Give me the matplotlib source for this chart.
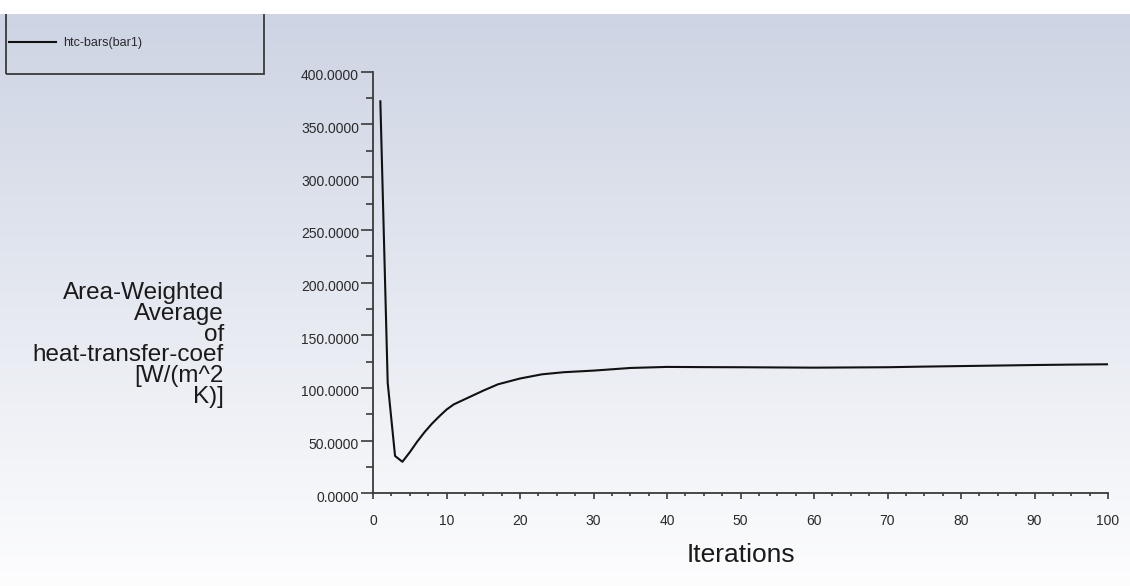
import numpy as np
import matplotlib
matplotlib.use('Agg')
import matplotlib.pyplot as plt
from matplotlib.patches import Rectangle
from matplotlib.ticker import MultipleLocator, FormatStrFormatter
from matplotlib.transforms import ScaledTranslation

plt.rcParams['font.family'] = ['Liberation Sans', 'DejaVu Sans']

# monitor data
iterations = [1, 2, 3, 4, 5, 6, 7, 8, 9, 10, 11, 13, 15, 17, 20, 23, 26, 30,
              35, 40, 45, 50, 55, 60, 65, 70, 75, 80, 85, 90, 95, 100]
htc = [372.0, 105.0, 35.5, 30.0, 39.0, 49.0, 58.0, 66.0, 73.0, 79.5, 84.5,
       91.0, 97.5, 103.5, 109.0, 113.0, 115.0, 116.5, 119.0, 120.0, 119.8,
       119.7, 119.5, 119.3, 119.5, 119.7, 120.3, 120.8, 121.3, 121.8, 122.2,
       122.5]
series_label = 'htc-bars(bar1)'
xlabel = 'Iterations'
ylabel = 'Area-Weighted\nAverage\nof\nheat-transfer-coef\n[W/(m^2\nK)]'

W, H = 1130, 586
fig = plt.figure(figsize=(W / 100, H / 100), dpi=100, facecolor='white')

# gradient background (white strip at the very top)
bg_h = (H - 14) / H
bg = fig.add_axes([0, 0, 1, bg_h], zorder=0)
top = np.array([205, 212, 227]) / 255
bot = np.array([253, 253, 254]) / 255
t = np.linspace(0, 1, 256)[:, None]
grad = (top * (1 - t) + bot * t)[:, None, :].repeat(2, axis=1)
bg.imshow(grad, aspect='auto', extent=[0, 1, 0, 1], interpolation='bicubic')
bg.set_xlim(0, 1)
bg.set_ylim(0, 1)
bg.set_axis_off()

# legend box, clipped at the top of the gradient
box_y0 = (H - 74) / (H - 14)
bg.add_patch(Rectangle((6 / W, box_y0), 258 / W, 1.2 - box_y0,
                       transform=bg.transAxes, facecolor='none',
                       edgecolor='#3a3a3a', lw=1.3, clip_on=True))

ax = fig.add_axes([373 / W, 92.6 / H, 735 / W, 421.6 / H], zorder=1)
ax.set_facecolor('none')
line, = ax.plot(iterations, htc, color='#111111', lw=1.5, label=series_label)

ax.set_xlim(0, 100)
ax.set_ylim(0, 400)
for s in ['top', 'right']:
    ax.spines[s].set_visible(False)
for s in ['left', 'bottom']:
    ax.spines[s].set_color('#3a3a3a')
    ax.spines[s].set_linewidth(1.3)

ax.xaxis.set_major_locator(MultipleLocator(10))
ax.xaxis.set_minor_locator(MultipleLocator(2.5))
ax.yaxis.set_major_locator(MultipleLocator(50))
ax.yaxis.set_minor_locator(MultipleLocator(25))
ax.yaxis.set_major_formatter(FormatStrFormatter('%.4f'))

ax.tick_params(axis='y', which='major', length=8.6, width=1.2, color='#3a3a3a',
               pad=1.5, labelsize=10, labelcolor='#2a2a2a')
ax.tick_params(axis='y', which='minor', length=5, width=1.2, color='#3a3a3a')
ax.tick_params(axis='x', which='major', length=4.3, width=1.2, color='#3a3a3a',
               pad=10.5, labelsize=10, labelcolor='#2a2a2a')
ax.tick_params(axis='x', which='minor', length=2.2, width=1.2, color='#3a3a3a')

# y tick labels sit a few pixels below their ticks
shift = ScaledTranslation(0, -3 / 100, fig.dpi_scale_trans)
for lab in ax.get_yticklabels():
    lab.set_transform(lab.get_transform() + shift)

ax.set_xlabel(xlabel, fontsize=19, color='#1a1a1a', va='baseline')
ax.xaxis.set_label_coords(0.5, (493.4 - 562.3) / 421.6)
ax.set_ylabel(ylabel, fontsize=17.5, color='#1a1a1a', rotation=0,
              ha='right', va='center', multialignment='right', linespacing=0.94)
ax.yaxis.set_label_coords((224 - 373) / 735, (493.4 - 345) / 421.6)

fig.legend(handles=[line], loc='center left',
           bbox_to_anchor=(9 / W, 1 - 43 / H), frameon=False, fontsize=9,
           handlelength=3.8, handletextpad=0.5, borderpad=0, borderaxespad=0,
           labelcolor='#2a2a2a')

fig.savefig('out.png', dpi=100, facecolor='white')
